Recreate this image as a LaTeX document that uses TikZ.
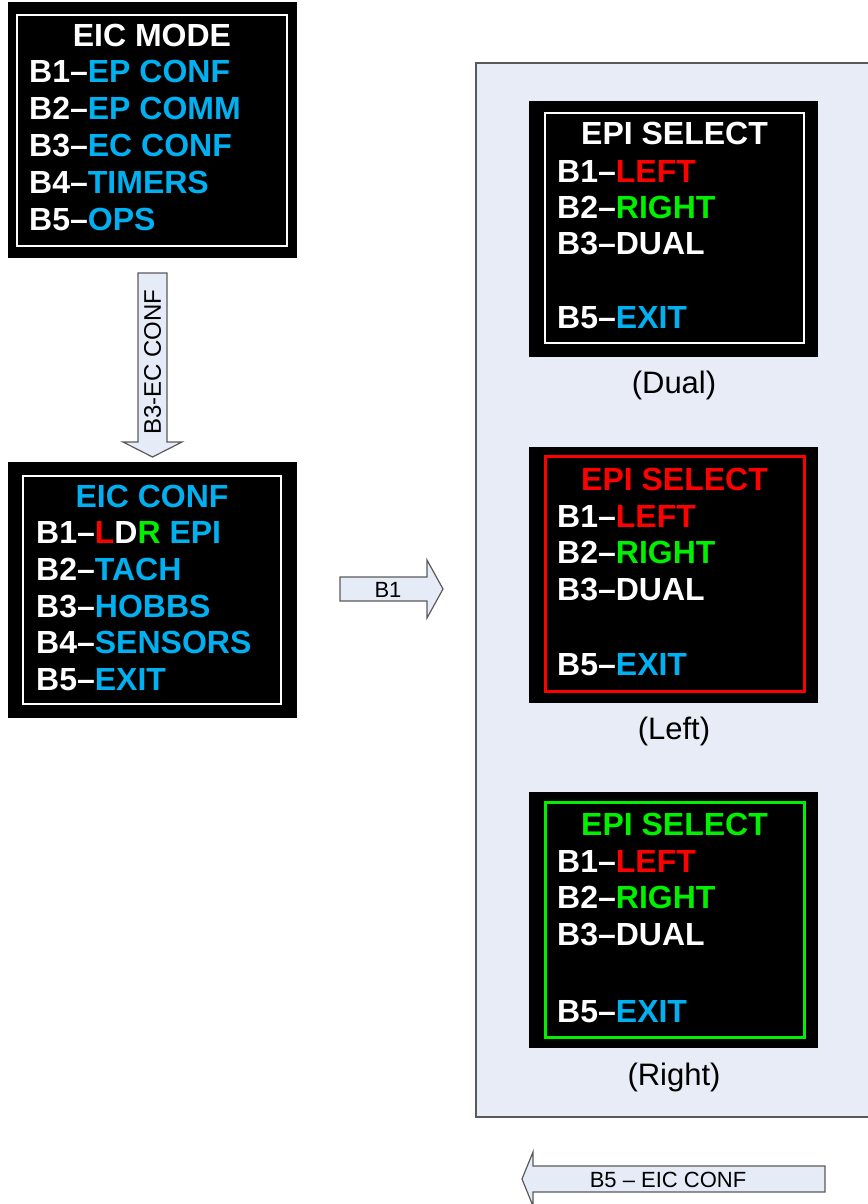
\documentclass[tikz,border=0pt]{standalone}
\usepackage{fontspec}
\setmainfont{Liberation Sans}
\usepackage{xcolor}
\definecolor{scrblue}{RGB}{0,176,240}
\definecolor{scrred}{RGB}{255,0,0}
\definecolor{scrgreen}{RGB}{0,240,0}
\definecolor{panelfill}{RGB}{231,236,246}
\definecolor{arrowfill}{RGB}{230,236,247}
\definecolor{edgegray}{RGB}{90,90,90}
\usepackage{tikz}
\newcommand{\screenfont}{\bfseries\fontsize{32}{32}\selectfont}
\newcommand{\captionfont}{\fontsize{31}{31}\selectfont}
\newcommand{\arrowfont}{\fontsize{22}{22}\selectfont}
\tikzset{
    screen/.style={fill=black, inner sep=0pt, minimum width=289pt, minimum height=256pt},
    frame/.style={draw=white, line width=2.5pt, inner sep=0pt},
    row/.style={anchor=base west, inner sep=0pt, text=white, font=\screenfont},
    heading/.style={row, anchor=base},
    caption/.style={inner sep=0pt, font=\captionfont},
    panel/.style={draw=edgegray, fill=panelfill, line width=1.5pt},
    blockarrow/.style={draw=edgegray, fill=arrowfill, line width=1.2pt, line join=miter},
    arrowlabel/.style={inner sep=0pt, font=\arrowfont}
}

\begin{document}
\begin{tikzpicture}[x=1pt, y=-1pt]
      \useasboundingbox (0,0) rectangle (867,1204);

      % panel with the three EPI SELECT screens
      \draw[panel] (476,63) rectangle (872,1117);

      % EIC MODE
      \path
          node[screen] (mode) at (152,130) {}
          node[frame, minimum width=270pt, minimum height=231pt] (mode-frame) at (152,130.5) {}
          (152,47) node[heading] (mode-title) {EIC MODE}
          (29,83) node[row] (mode-b1) {B1–\textcolor{scrblue}{EP CONF}}
          (29,120) node[row] (mode-b2) {B2–\textcolor{scrblue}{EP COMM}}
          (29,157) node[row] (mode-b3) {B3–\textcolor{scrblue}{EC CONF}}
          (29,193) node[row] (mode-b4) {B4–\textcolor{scrblue}{TIMERS}}
          (29,230) node[row] (mode-b5) {B5–\textcolor{scrblue}{OPS}};

      % EIC CONF
      \path
          node[screen] (conf) at (152,590) {}
          node[frame, minimum width=258pt, minimum height=228pt] (conf-frame) at (152,590) {}
          (152,507) node[heading, text=scrblue] (conf-title) {EIC CONF}
          (36,543) node[row] (conf-b1) {B1–\textcolor{scrred}{L}D\textcolor{scrgreen}{R} \textcolor{scrblue}{EPI}}
          (36,580) node[row] (conf-b2) {B2–\textcolor{scrblue}{TACH}}
          (36,617) node[row] (conf-b3) {B3–\textcolor{scrblue}{HOBBS}}
          (36,653) node[row] (conf-b4) {B4–\textcolor{scrblue}{SENSORS}}
          (36,690) node[row] (conf-b5) {B5–\textcolor{scrblue}{EXIT}};

      % EPI SELECT, dual
      \path
          node[screen] (dual) at (673.5,229) {}
          node[frame, minimum width=259pt, minimum height=230pt] (dual-frame) at (674.5,228) {}
          (674.5,145) node[heading] (dual-title) {EPI SELECT}
          (557,182) node[row] (dual-b1) {B1–\textcolor{scrred}{LEFT}}
          (557,218) node[row] (dual-b2) {B2–\textcolor{scrgreen}{RIGHT}}
          (557,254) node[row] (dual-b3) {B3–DUAL}
          (557,328) node[row] (dual-b5) {B5–\textcolor{scrblue}{EXIT}}
          (674,385) node[caption] (dual-caption) {(Dual)};

      % EPI SELECT, left
      \path
          node[screen] (left) at (673.5,575) {}
          node[frame, draw=scrred, line width=3pt, minimum width=259pt, minimum height=235pt] (left-frame) at (674.5,573.5) {}
          (674.5,490) node[heading, text=scrred] (left-title) {EPI SELECT}
          (557,527) node[row] (left-b1) {B1–\textcolor{scrred}{LEFT}}
          (557,563) node[row] (left-b2) {B2–\textcolor{scrgreen}{RIGHT}}
          (557,600) node[row] (left-b3) {B3–DUAL}
          (557,675) node[row] (left-b5) {B5–\textcolor{scrblue}{EXIT}}
          (674,731) node[caption] (left-caption) {(Left)};

      % EPI SELECT, right
      \path
          node[screen] (right) at (673.5,920) {}
          node[frame, draw=scrgreen, line width=3pt, minimum width=259pt, minimum height=235pt] (right-frame) at (674.5,919.5) {}
          (674.5,835) node[heading, text=scrgreen] (right-title) {EPI SELECT}
          (557,872) node[row] (right-b1) {B1–\textcolor{scrred}{LEFT}}
          (557,908) node[row] (right-b2) {B2–\textcolor{scrgreen}{RIGHT}}
          (557,945) node[row] (right-b3) {B3–DUAL}
          (557,1022) node[row] (right-b5) {B5–\textcolor{scrblue}{EXIT}}
          (674,1077) node[caption] (right-caption) {(Right)};

      % block arrows
      \draw[blockarrow] (138,273) -- (167,273) -- (167,442) -- (182,442) -- (152.5,457) -- (123,442) -- (138,442) -- cycle;
      \node[arrowlabel, rotate=90, font=\fontsize{24}{24}\selectfont] (b3-label) at (152.5,362) {B3-EC CONF};

      \draw[blockarrow] (340,577) -- (427,577) -- (427,560) -- (443,589) -- (427,618) -- (427,601) -- (340,601) -- cycle;
      \node[arrowlabel] (b1-label) at (388,589.5) {B1};

      \draw[blockarrow] (825,1166) -- (533,1166) -- (533,1152) -- (522,1179) -- (533,1206) -- (533,1192) -- (825,1192) -- cycle;
      \node[arrowlabel] (b5-label) at (668,1179.5) {B5 – EIC CONF};
    \end{tikzpicture}
\end{document}
